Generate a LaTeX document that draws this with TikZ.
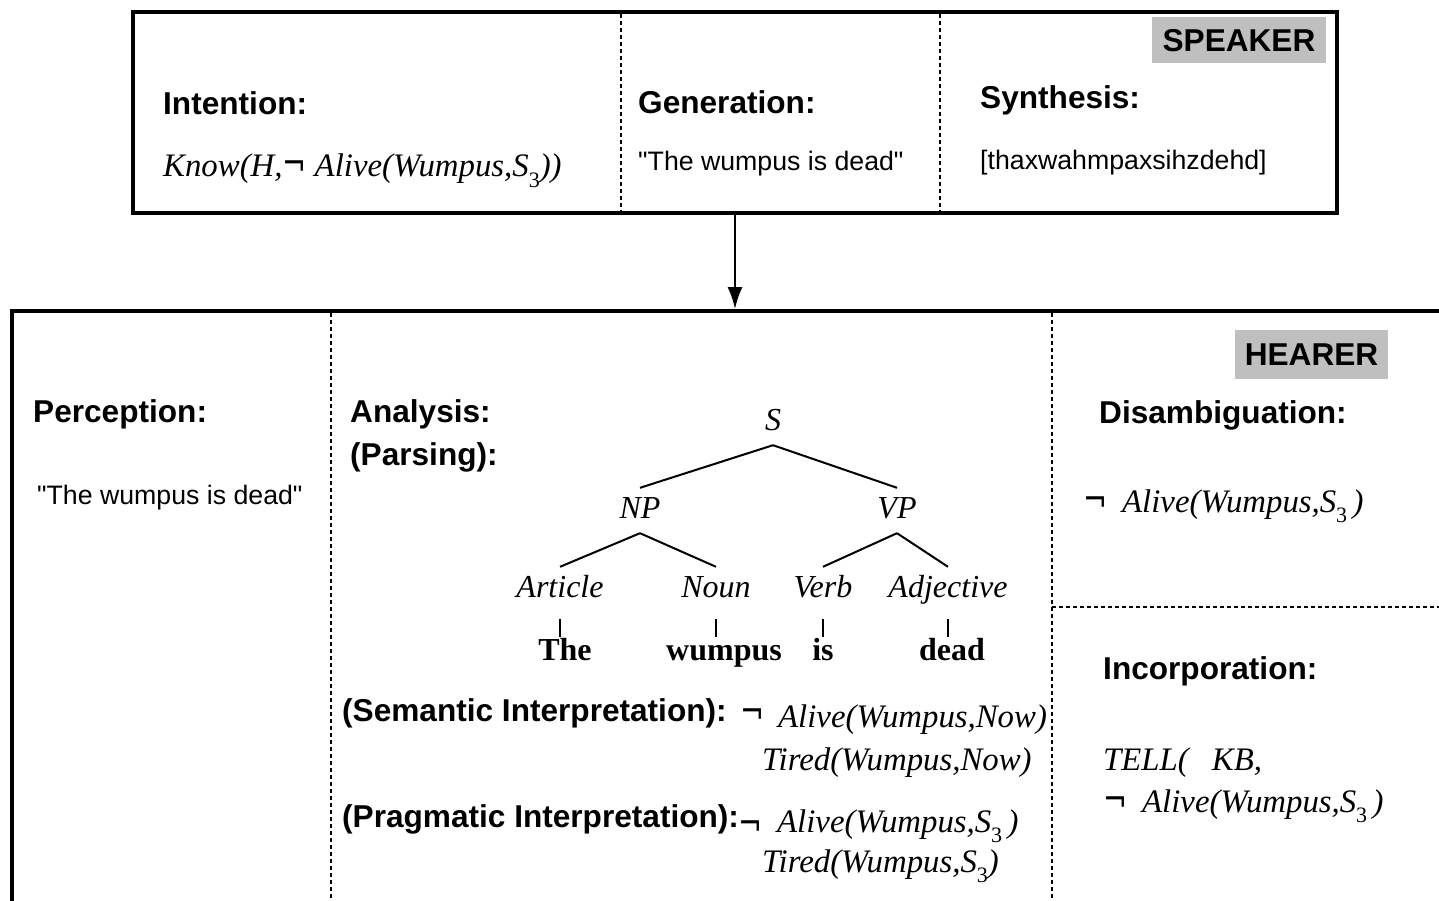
\documentclass[tikz,border=0pt]{standalone}
\usepackage{fontspec}
\setmainfont{Liberation Serif}
\setsansfont{Liberation Sans}[Ligatures=TeXOff]
\newfontfamily\negfont{DejaVu Sans}
\usetikzlibrary{arrows.meta}
\newcommand{\mysub}[1]{\raisebox{-0.32em}{\fontsize{22}{22}\selectfont\upshape #1}}
\newcommand{\myneg}{\raisebox{0pt}{\scalebox{1.3}[1.7]{\negfont\upshape\fontsize{22}{22}\selectfont ¬}}}
\begin{document}
\begin{tikzpicture}[x=1pt,y=-1pt,
  head/.style={anchor=base west,inner sep=0pt,font=\sffamily\bfseries\fontsize{31.6}{36}\selectfont},
  plain/.style={anchor=base west,inner sep=0pt,font=\sffamily\fontsize{26.7}{32}\selectfont},
  form/.style={anchor=base west,inner sep=0pt,font=\itshape\fontsize{32.8}{38}\selectfont},
  tag/.style={fill=black!25,inner sep=0pt,text height=22.7pt,text depth=0pt,font=\sffamily\bfseries\fontsize{31.6}{36}\selectfont},
  cat/.style={anchor=base,font=\itshape\fontsize{32}{38}\selectfont,text height=22pt,text depth=7pt,inner xsep=0pt,inner ysep=8pt},
  word/.style={anchor=base,font=\bfseries\fontsize{32}{38}\selectfont,text height=22pt,text depth=7pt,inner xsep=0pt,inner ysep=1pt},
  frame/.style={line width=4pt},
  sepline/.style={line width=2pt,dash pattern=on 4pt off 3pt},
  branch/.style={line width=2pt},
  arrowline/.style={line width=2pt,-{Latex[length=22pt,width=15pt]}},
]
\useasboundingbox (0,0) rectangle (1439,901);
\clip (0,0) rectangle (1439,901);

% speaker frame
\node[frame,draw,anchor=north west,minimum width=1204pt,minimum height=201pt,inner sep=0pt,outer sep=0pt] (speaker) at (133,12) {};
\draw[sepline] (621,14) -- (621,211);
\draw[sepline] (940,14) -- (940,211);

% hearer frame
\coordinate (hbl) at (12,910);
\coordinate (htl) at (12,311);
\coordinate (htr) at (1450,311);
\draw[frame] (hbl) -- (htl) -- (htr);
\draw[sepline] (331,313) -- (331,905);
\draw[sepline] (1052,313) -- (1052,905);
\draw[sepline] (1052,607) -- (1445,607);

% arrow
\coordinate (arrowtip) at (735,309);
\draw[arrowline] (speaker.south) -- (arrowtip);

% speaker texts
\node[tag,minimum width=174pt,minimum height=46pt] (speakertag) at (1239,40) {SPEAKER};
\node[head] (intention) at (163,115) {Intention:};
\node[form] (know) at (163,177) {Know(H,\myneg\ Alive(Wumpus,S\mysub{3}))};
\node[head] (generation) at (638,114) {Generation:};
\node[plain] (gentext) at (638,171) {"The wumpus is dead"};
\node[head] (synthesis) at (980,109) {Synthesis:};
\node[plain] (syntext) at (980,170) {[thaxwahmpaxsihzdehd]};

% hearer texts
\node[tag,minimum width=153pt,minimum height=49pt] (hearertag) at (1311.5,354.5) {HEARER};
\node[head] (perception) at (33,422) {Perception:};
\node[plain] (pertext) at (37,504) {"The wumpus is dead"};
\node[head] (analysis) at (350,422) {Analysis:};
\node[head] (parsing) at (350,465) {(Parsing):};

% parse tree
\node[cat] (S) at (773,430) {S};
\node[cat] (NP) at (640,518) {NP};
\node[cat] (VP) at (897,518) {VP};
\node[cat] (Art) at (560,597) {Article};
\node[cat] (Noun) at (716,597) {Noun};
\node[cat] (Verb) at (823,597) {Verb};
\node[cat] (Adj) at (948,597) {Adjective};
\node[word] (The) at (565,660) {The};
\node[word] (wumpus) at (724,660) {wumpus};
\node[word] (is) at (823,660) {is};
\node[word] (dead) at (952,660) {dead};
\draw[branch] (S.south) -- (NP.north);
\draw[branch] (S.south) -- (VP.north);
\draw[branch] (NP.south) -- (Art.north);
\draw[branch] (NP.south) -- (Noun.north);
\draw[branch] (VP.south) -- (Verb.north);
\draw[branch] (VP.south) -- (Adj.north);
\draw[branch] ([yshift=-7pt]Art.south) -- (Art.south |- The.north);
\draw[branch] ([yshift=-7pt]Noun.south) -- (Noun.south |- wumpus.north);
\draw[branch] ([yshift=-7pt]Verb.south) -- (Verb.south |- is.north);
\draw[branch] ([yshift=-7pt]Adj.south) -- (Adj.south |- dead.north);

% interpretations
\node[head] (sem) at (342,721) {(Semantic Interpretation):};
\node[form] (semA) at (740,727) {\raisebox{3pt}{\myneg}\hspace{14pt}Alive(Wumpus,Now)};
\node[form] (semB) at (762,770) {Tired(Wumpus,Now)};
\node[head] (prag) at (342,827) {(Pragmatic Interpretation):};
\node[form] (pragA) at (738,832) {\raisebox{-4pt}{\myneg}\hspace{15pt}Alive(Wumpus,S\mysub{3}\,)};
\node[form] (pragB) at (762,872) {Tired(Wumpus,S\mysub{3})};

% right column
\node[head] (disamb) at (1099,423) {Disambiguation:};
\node[form] (disA) at (1083,512) {\myneg\hspace{15pt}Alive(Wumpus,S\mysub{3}\,)};
\node[head] (incorp) at (1103,679) {Incorporation:};
\node[form] (tell) at (1103,770) {TELL(\hspace{23pt}KB,};
\node[form] (tellA) at (1103,812) {\myneg\hspace{15pt}Alive(Wumpus,S\mysub{3}\,)};
\end{tikzpicture}
\end{document}
